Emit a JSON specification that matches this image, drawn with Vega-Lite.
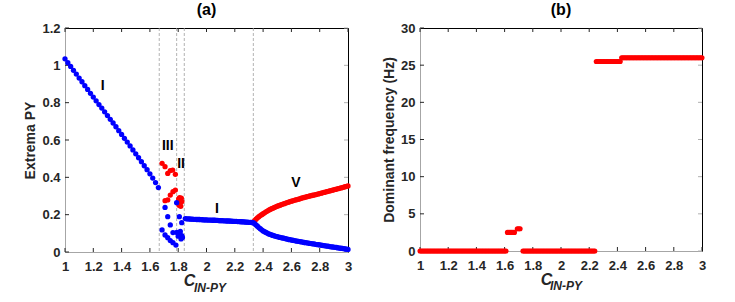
{
"$schema": "https://vega.github.io/schema/vega-lite/v6.json",
"autosize": {"type": "pad"},
"padding": {"left": 23, "top": 2, "right": 20, "bottom": 5},
"background": "white",
"config": {
  "font": "Liberation Sans",
  "view": {"stroke": null},
  "axis": {"grid": false, "ticks": false, "labelFont": "Liberation Sans", "labelFontSize": 13, "labelFontWeight": "bold", "labelColor": "#262626", "titleFont": "Liberation Sans", "titleFontSize": 14, "titleFontWeight": "bold", "titleColor": "#262626", "domainColor": "#a6a6a6", "domainWidth": 1, "labelFlush": false, "labelOverlap": false},
  "axisX": {"labelPadding": 8},
  "axisY": {"labelPadding": 5, "titlePadding": 4},
  "title": {"font": "Liberation Sans", "fontSize": 16, "fontWeight": "bold", "color": "#000000", "offset": 4}
},
"datasets": {
  "xt": [{"v":1},{"v":1.2},{"v":1.4},{"v":1.6},{"v":1.8},{"v":2},{"v":2.2},{"v":2.4},{"v":2.6},{"v":2.8},{"v":3}],
  "yta": [{"v":0},{"v":0.2},{"v":0.4},{"v":0.6},{"v":0.8},{"v":1},{"v":1.2}],
  "ytb": [{"v":0},{"v":5},{"v":10},{"v":15},{"v":20},{"v":25},{"v":30}],
  "aBlue": [
    {"x":1.00,"y":1.035},{"x":1.02,"y":1.014},{"x":1.04,"y":0.994},{"x":1.06,"y":0.973},{"x":1.08,"y":0.953},{"x":1.10,"y":0.932},{"x":1.12,"y":0.912},{"x":1.14,"y":0.891},{"x":1.16,"y":0.871},{"x":1.18,"y":0.850},{"x":1.20,"y":0.830},{"x":1.22,"y":0.810},{"x":1.24,"y":0.790},{"x":1.26,"y":0.771},{"x":1.28,"y":0.751},{"x":1.30,"y":0.731},{"x":1.32,"y":0.711},{"x":1.34,"y":0.691},{"x":1.36,"y":0.671},{"x":1.38,"y":0.650},{"x":1.40,"y":0.630},{"x":1.42,"y":0.609},{"x":1.44,"y":0.589},{"x":1.46,"y":0.568},{"x":1.48,"y":0.547},{"x":1.50,"y":0.526},{"x":1.52,"y":0.505},{"x":1.54,"y":0.484},{"x":1.56,"y":0.462},{"x":1.58,"y":0.441},{"x":1.60,"y":0.419},{"x":1.62,"y":0.396},{"x":1.64,"y":0.372},{"x":1.66,"y":0.345},
    {"x":1.686,"y":0.118},{"x":1.707,"y":0.091},{"x":1.726,"y":0.077},{"x":1.744,"y":0.061},{"x":1.763,"y":0.050},{"x":1.784,"y":0.037},
    {"x":1.707,"y":0.239},{"x":1.726,"y":0.189},{"x":1.744,"y":0.145},{"x":1.763,"y":0.104},
    {"x":1.789,"y":0.264},{"x":1.808,"y":0.189},{"x":1.825,"y":0.157},
    {"x":1.790,"y":0.105},{"x":1.815,"y":0.110},{"x":1.800,"y":0.085},{"x":1.810,"y":0.098},{"x":1.825,"y":0.088},{"x":1.830,"y":0.078},{"x":1.820,"y":0.070},
    {"x":1.85,"y":0.179},{"x":1.86,"y":0.178},{"x":1.87,"y":0.177},{"x":1.88,"y":0.177},{"x":1.89,"y":0.176},{"x":1.90,"y":0.176},{"x":1.91,"y":0.175},{"x":1.92,"y":0.175},{"x":1.93,"y":0.174},{"x":1.94,"y":0.174},{"x":1.95,"y":0.174},{"x":1.96,"y":0.173},{"x":1.97,"y":0.173},{"x":1.98,"y":0.172},{"x":1.99,"y":0.172},{"x":2.00,"y":0.172},{"x":2.01,"y":0.171},{"x":2.02,"y":0.171},{"x":2.03,"y":0.171},{"x":2.04,"y":0.170},{"x":2.05,"y":0.170},{"x":2.06,"y":0.170},{"x":2.07,"y":0.169},{"x":2.08,"y":0.169},{"x":2.09,"y":0.168},{"x":2.10,"y":0.168},{"x":2.11,"y":0.168},{"x":2.12,"y":0.167},{"x":2.13,"y":0.167},{"x":2.14,"y":0.166},{"x":2.15,"y":0.166},{"x":2.16,"y":0.166},{"x":2.17,"y":0.165},{"x":2.18,"y":0.165},{"x":2.19,"y":0.164},{"x":2.20,"y":0.164},{"x":2.21,"y":0.164},{"x":2.22,"y":0.163},{"x":2.23,"y":0.163},{"x":2.24,"y":0.162},{"x":2.25,"y":0.162},{"x":2.26,"y":0.161},{"x":2.27,"y":0.161},{"x":2.28,"y":0.160},{"x":2.29,"y":0.160},{"x":2.30,"y":0.159},{"x":2.31,"y":0.159},{"x":2.32,"y":0.158},{"x":2.33,"y":0.157},
    {"x":2.34,"y":0.152},{"x":2.35,"y":0.145},{"x":2.36,"y":0.138},{"x":2.37,"y":0.131},{"x":2.38,"y":0.125},{"x":2.39,"y":0.119},{"x":2.40,"y":0.113},{"x":2.41,"y":0.109},{"x":2.42,"y":0.105},{"x":2.43,"y":0.101},{"x":2.44,"y":0.097},{"x":2.45,"y":0.094},{"x":2.46,"y":0.091},{"x":2.47,"y":0.089},{"x":2.48,"y":0.086},{"x":2.49,"y":0.084},{"x":2.50,"y":0.082},{"x":2.51,"y":0.080},{"x":2.52,"y":0.078},{"x":2.53,"y":0.076},{"x":2.54,"y":0.075},{"x":2.55,"y":0.073},{"x":2.56,"y":0.071},{"x":2.57,"y":0.069},{"x":2.58,"y":0.067},{"x":2.59,"y":0.066},{"x":2.60,"y":0.064},{"x":2.61,"y":0.063},{"x":2.62,"y":0.061},{"x":2.63,"y":0.060},{"x":2.64,"y":0.058},{"x":2.65,"y":0.057},{"x":2.66,"y":0.056},{"x":2.67,"y":0.054},{"x":2.68,"y":0.053},{"x":2.69,"y":0.051},{"x":2.70,"y":0.050},{"x":2.71,"y":0.049},{"x":2.72,"y":0.048},{"x":2.73,"y":0.046},{"x":2.74,"y":0.045},{"x":2.75,"y":0.044},{"x":2.76,"y":0.043},{"x":2.77,"y":0.041},{"x":2.78,"y":0.040},{"x":2.79,"y":0.039},{"x":2.80,"y":0.038},{"x":2.81,"y":0.037},{"x":2.82,"y":0.035},{"x":2.83,"y":0.034},{"x":2.84,"y":0.033},{"x":2.85,"y":0.032},{"x":2.86,"y":0.031},{"x":2.87,"y":0.029},{"x":2.88,"y":0.028},{"x":2.89,"y":0.027},{"x":2.90,"y":0.026},{"x":2.91,"y":0.025},{"x":2.92,"y":0.024},{"x":2.93,"y":0.022},{"x":2.94,"y":0.021},{"x":2.95,"y":0.020},{"x":2.96,"y":0.019},{"x":2.97,"y":0.018},{"x":2.98,"y":0.016},{"x":2.99,"y":0.015},{"x":3.00,"y":0.014}
  ],
  "aRed": [
    {"x":1.686,"y":0.475},{"x":1.707,"y":0.457},{"x":1.726,"y":0.421},{"x":1.744,"y":0.436},{"x":1.761,"y":0.439},{"x":1.780,"y":0.416},
    {"x":1.707,"y":0.275},{"x":1.726,"y":0.279},{"x":1.744,"y":0.305},{"x":1.763,"y":0.323},{"x":1.780,"y":0.332},
    {"x":1.803,"y":0.285},{"x":1.810,"y":0.291},{"x":1.822,"y":0.288},{"x":1.806,"y":0.268},{"x":1.815,"y":0.265},{"x":1.826,"y":0.270},{"x":1.806,"y":0.250},{"x":1.818,"y":0.245},
    {"x":2.34,"y":0.168},{"x":2.35,"y":0.176},{"x":2.36,"y":0.183},{"x":2.37,"y":0.189},{"x":2.38,"y":0.195},{"x":2.39,"y":0.200},{"x":2.40,"y":0.205},{"x":2.41,"y":0.210},{"x":2.42,"y":0.215},{"x":2.43,"y":0.219},{"x":2.44,"y":0.224},{"x":2.45,"y":0.228},{"x":2.46,"y":0.232},{"x":2.47,"y":0.235},{"x":2.48,"y":0.239},{"x":2.49,"y":0.242},{"x":2.50,"y":0.245},{"x":2.51,"y":0.248},{"x":2.52,"y":0.251},{"x":2.53,"y":0.254},{"x":2.54,"y":0.257},{"x":2.55,"y":0.259},{"x":2.56,"y":0.262},{"x":2.57,"y":0.265},{"x":2.58,"y":0.267},{"x":2.59,"y":0.270},{"x":2.60,"y":0.272},{"x":2.61,"y":0.274},{"x":2.62,"y":0.277},{"x":2.63,"y":0.279},{"x":2.64,"y":0.281},{"x":2.65,"y":0.283},{"x":2.66,"y":0.285},{"x":2.67,"y":0.288},{"x":2.68,"y":0.290},{"x":2.69,"y":0.292},{"x":2.70,"y":0.294},{"x":2.71,"y":0.296},{"x":2.72,"y":0.298},{"x":2.73,"y":0.300},{"x":2.74,"y":0.302},{"x":2.75,"y":0.304},{"x":2.76,"y":0.305},{"x":2.77,"y":0.307},{"x":2.78,"y":0.309},{"x":2.79,"y":0.311},{"x":2.80,"y":0.313},{"x":2.81,"y":0.315},{"x":2.82,"y":0.317},{"x":2.83,"y":0.319},{"x":2.84,"y":0.321},{"x":2.85,"y":0.323},{"x":2.86,"y":0.325},{"x":2.87,"y":0.327},{"x":2.88,"y":0.329},{"x":2.89,"y":0.331},{"x":2.90,"y":0.333},{"x":2.91,"y":0.335},{"x":2.92,"y":0.337},{"x":2.93,"y":0.339},{"x":2.94,"y":0.341},{"x":2.95,"y":0.343},{"x":2.96,"y":0.345},{"x":2.97,"y":0.347},{"x":2.98,"y":0.350},{"x":2.99,"y":0.352},{"x":3.00,"y":0.354}
  ],
  "vlines": [{"x":1.666},{"x":1.789},{"x":1.843},{"x":2.331}],
  "aLabels": [
    {"x":1.266,"y":0.889,"t":"I"},{"x":1.726,"y":0.570,"t":"III"},{"x":1.820,"y":0.471,"t":"II"},{"x":2.074,"y":0.229,"t":"I"},{"x":2.632,"y":0.368,"t":"V"}
  ],
  "aSub": [{"x":2.025,"y":-0.193,"t":"IN-PY"}],
  "bSub": [{"x":2.035,"y":-4.75,"t":"IN-PY"}],
  "b": [
    {"x":1.00,"y":0},{"x":1.01,"y":0},{"x":1.02,"y":0},{"x":1.03,"y":0},{"x":1.04,"y":0},{"x":1.05,"y":0},{"x":1.06,"y":0},{"x":1.07,"y":0},{"x":1.08,"y":0},{"x":1.09,"y":0},{"x":1.10,"y":0},{"x":1.11,"y":0},{"x":1.12,"y":0},{"x":1.13,"y":0},{"x":1.14,"y":0},{"x":1.15,"y":0},{"x":1.16,"y":0},{"x":1.17,"y":0},{"x":1.18,"y":0},{"x":1.19,"y":0},{"x":1.20,"y":0},{"x":1.21,"y":0},{"x":1.22,"y":0},{"x":1.23,"y":0},{"x":1.24,"y":0},{"x":1.25,"y":0},{"x":1.26,"y":0},{"x":1.27,"y":0},{"x":1.28,"y":0},{"x":1.29,"y":0},{"x":1.30,"y":0},{"x":1.31,"y":0},{"x":1.32,"y":0},{"x":1.33,"y":0},{"x":1.34,"y":0},{"x":1.35,"y":0},{"x":1.36,"y":0},{"x":1.37,"y":0},{"x":1.38,"y":0},{"x":1.39,"y":0},{"x":1.40,"y":0},{"x":1.41,"y":0},{"x":1.42,"y":0},{"x":1.43,"y":0},{"x":1.44,"y":0},{"x":1.45,"y":0},{"x":1.46,"y":0},{"x":1.47,"y":0},{"x":1.48,"y":0},{"x":1.49,"y":0},{"x":1.50,"y":0},{"x":1.51,"y":0},{"x":1.52,"y":0},{"x":1.53,"y":0},{"x":1.54,"y":0},{"x":1.55,"y":0},{"x":1.56,"y":0},{"x":1.57,"y":0},{"x":1.58,"y":0},{"x":1.59,"y":0},{"x":1.60,"y":0},{"x":1.61,"y":0},
    {"x":1.62,"y":2.5},{"x":1.63,"y":2.5},{"x":1.64,"y":2.5},{"x":1.65,"y":2.5},{"x":1.66,"y":2.5},{"x":1.67,"y":2.5},
    {"x":1.69,"y":3},{"x":1.70,"y":3},{"x":1.71,"y":3},
    {"x":1.73,"y":0},{"x":1.74,"y":0},{"x":1.75,"y":0},{"x":1.76,"y":0},{"x":1.77,"y":0},{"x":1.78,"y":0},{"x":1.79,"y":0},{"x":1.80,"y":0},{"x":1.81,"y":0},{"x":1.82,"y":0},{"x":1.83,"y":0},{"x":1.84,"y":0},{"x":1.85,"y":0},{"x":1.86,"y":0},{"x":1.87,"y":0},{"x":1.88,"y":0},{"x":1.89,"y":0},{"x":1.90,"y":0},{"x":1.91,"y":0},{"x":1.92,"y":0},{"x":1.93,"y":0},{"x":1.94,"y":0},{"x":1.95,"y":0},{"x":1.96,"y":0},{"x":1.97,"y":0},{"x":1.98,"y":0},{"x":1.99,"y":0},{"x":2.00,"y":0},{"x":2.01,"y":0},{"x":2.02,"y":0},{"x":2.03,"y":0},{"x":2.04,"y":0},{"x":2.05,"y":0},{"x":2.06,"y":0},{"x":2.07,"y":0},{"x":2.08,"y":0},{"x":2.09,"y":0},{"x":2.10,"y":0},{"x":2.11,"y":0},{"x":2.12,"y":0},{"x":2.13,"y":0},{"x":2.14,"y":0},{"x":2.15,"y":0},{"x":2.16,"y":0},{"x":2.17,"y":0},{"x":2.18,"y":0},{"x":2.19,"y":0},{"x":2.20,"y":0},{"x":2.21,"y":0},{"x":2.22,"y":0},{"x":2.23,"y":0},{"x":2.24,"y":0},
    {"x":2.25,"y":25.5},{"x":2.26,"y":25.5},{"x":2.27,"y":25.5},{"x":2.28,"y":25.5},{"x":2.29,"y":25.5},{"x":2.30,"y":25.5},{"x":2.31,"y":25.5},{"x":2.32,"y":25.5},{"x":2.33,"y":25.5},{"x":2.34,"y":25.5},{"x":2.35,"y":25.5},{"x":2.36,"y":25.5},{"x":2.37,"y":25.5},{"x":2.38,"y":25.5},{"x":2.39,"y":25.5},{"x":2.40,"y":25.5},{"x":2.41,"y":25.5},{"x":2.42,"y":25.5},
    {"x":2.43,"y":26},{"x":2.44,"y":26},{"x":2.45,"y":26},{"x":2.46,"y":26},{"x":2.47,"y":26},{"x":2.48,"y":26},{"x":2.49,"y":26},{"x":2.50,"y":26},{"x":2.51,"y":26},{"x":2.52,"y":26},{"x":2.53,"y":26},{"x":2.54,"y":26},{"x":2.55,"y":26},{"x":2.56,"y":26},{"x":2.57,"y":26},{"x":2.58,"y":26},{"x":2.59,"y":26},{"x":2.60,"y":26},{"x":2.61,"y":26},{"x":2.62,"y":26},{"x":2.63,"y":26},{"x":2.64,"y":26},{"x":2.65,"y":26},{"x":2.66,"y":26},{"x":2.67,"y":26},{"x":2.68,"y":26},{"x":2.69,"y":26},{"x":2.70,"y":26},{"x":2.71,"y":26},{"x":2.72,"y":26},{"x":2.73,"y":26},{"x":2.74,"y":26},{"x":2.75,"y":26},{"x":2.76,"y":26},{"x":2.77,"y":26},{"x":2.78,"y":26},{"x":2.79,"y":26},{"x":2.80,"y":26},{"x":2.81,"y":26},{"x":2.82,"y":26},{"x":2.83,"y":26},{"x":2.84,"y":26},{"x":2.85,"y":26},{"x":2.86,"y":26},{"x":2.87,"y":26},{"x":2.88,"y":26},{"x":2.89,"y":26},{"x":2.90,"y":26},{"x":2.91,"y":26},{"x":2.92,"y":26},{"x":2.93,"y":26},{"x":2.94,"y":26},{"x":2.95,"y":26},{"x":2.96,"y":26},{"x":2.97,"y":26},{"x":2.98,"y":26},{"x":2.99,"y":26},{"x":3.00,"y":26}
  ]
},
"spacing": 30,
"hconcat": [
  {
    "width": 283, "height": 224,
    "title": {"text": "(a)"},
    "resolve": {"axis": {"x": "independent", "y": "independent"}},
    "layer": [
      {
        "data": {"name": "vlines"},
        "mark": {"type": "rule", "color": "#a0a0a0", "strokeWidth": 0.8, "strokeDash": [3, 2]},
        "encoding": {"x": {"field": "x", "type": "quantitative", "scale": {"domain": [1, 3], "nice": false}, "axis": null}}
      },
      {
        "data": {"name": "xt"},
        "mark": {"type": "tick", "orient": "vertical", "color": "#262626", "opacity": 1, "size": 4, "thickness": 1, "yOffset": -2},
        "encoding": {
          "x": {"field": "v", "type": "quantitative", "scale": {"domain": [1, 3], "nice": false}, "axis": null},
          "y": {"datum": 0, "type": "quantitative", "scale": {"domain": [0, 1.2], "nice": false}, "axis": null}
        }
      },
      {
        "data": {"name": "xt"},
        "mark": {"type": "tick", "orient": "vertical", "color": "#262626", "opacity": 1, "size": 4, "thickness": 1, "yOffset": 2},
        "encoding": {
          "x": {"field": "v", "type": "quantitative", "scale": {"domain": [1, 3], "nice": false}, "axis": null},
          "y": {"datum": 1.2, "type": "quantitative", "scale": {"domain": [0, 1.2], "nice": false}, "axis": null}
        }
      },
      {
        "data": {"name": "yta"},
        "mark": {"type": "tick", "orient": "horizontal", "color": "#262626", "opacity": 1, "size": 4, "thickness": 1, "xOffset": 2},
        "encoding": {
          "x": {"datum": 1, "type": "quantitative", "scale": {"domain": [1, 3], "nice": false}, "axis": null},
          "y": {"field": "v", "type": "quantitative", "scale": {"domain": [0, 1.2], "nice": false}, "axis": null}
        }
      },
      {
        "data": {"name": "yta"},
        "mark": {"type": "tick", "orient": "horizontal", "color": "#b0b0b0", "opacity": 1, "size": 4, "thickness": 1, "xOffset": -2},
        "encoding": {
          "x": {"datum": 3, "type": "quantitative", "scale": {"domain": [1, 3], "nice": false}, "axis": null},
          "y": {"field": "v", "type": "quantitative", "scale": {"domain": [0, 1.2], "nice": false}, "axis": null}
        }
      },
      {
        "data": {"name": "aRed"},
        "mark": {"type": "circle", "color": "#ff0000", "opacity": 1, "size": 28},
        "encoding": {
          "x": {"field": "x", "type": "quantitative", "scale": {"domain": [1, 3], "nice": false}, "axis": null},
          "y": {"field": "y", "type": "quantitative", "scale": {"domain": [0, 1.2], "nice": false}, "axis": null}
        }
      },
      {
        "data": {"name": "aBlue"},
        "mark": {"type": "circle", "color": "#0000ff", "opacity": 1, "size": 28},
        "encoding": {
          "x": {"field": "x", "type": "quantitative", "scale": {"domain": [1, 3], "nice": false}, "axis": {"orient": "bottom", "values": [1, 1.2, 1.4, 1.6, 1.8, 2, 2.2, 2.4, 2.6, 2.8, 3], "format": "~g", "title": "C", "titleFontSize": 16, "titleFontStyle": "italic", "titleX": 124, "titleY": 33, "titleBaseline": "alphabetic", "titleAnchor": "middle"}},
          "y": {"field": "y", "type": "quantitative", "scale": {"domain": [0, 1.2], "nice": false}, "axis": {"orient": "left", "values": [0, 0.2, 0.4, 0.6, 0.8, 1, 1.2], "format": "~g", "title": "Extrema PY"}}
        }
      },
      {
        "data": {"name": "aLabels"},
        "mark": {"type": "text", "fontSize": 14, "fontWeight": "bold", "color": "#000000", "font": "Liberation Sans", "align": "center", "baseline": "middle"},
        "encoding": {
          "x": {"field": "x", "type": "quantitative", "scale": {"domain": [1, 3], "nice": false}, "axis": {"orient": "top", "labels": false, "title": null, "domainColor": "#000000"}},
          "y": {"field": "y", "type": "quantitative", "scale": {"domain": [0, 1.2], "nice": false}, "axis": {"orient": "right", "labels": false, "title": null, "domainColor": "#000000"}},
          "text": {"field": "t"}
        }
      },
      {
        "data": {"name": "aSub"},
        "mark": {"type": "text", "fontSize": 12, "fontWeight": "bold", "fontStyle": "italic", "color": "#262626", "font": "Liberation Sans", "align": "center", "baseline": "middle"},
        "encoding": {
          "x": {"field": "x", "type": "quantitative", "scale": {"domain": [1, 3], "nice": false}, "axis": null},
          "y": {"field": "y", "type": "quantitative", "scale": {"domain": [0, 1.2], "nice": false}, "axis": null},
          "text": {"field": "t"}
        }
      }
    ]
  },
  {
    "width": 282, "height": 223,
    "title": {"text": "(b)"},
    "resolve": {"axis": {"x": "independent", "y": "independent"}},
    "layer": [
      {
        "data": {"name": "xt"},
        "mark": {"type": "tick", "orient": "vertical", "color": "#262626", "opacity": 1, "size": 4, "thickness": 1, "yOffset": -2},
        "encoding": {
          "x": {"field": "v", "type": "quantitative", "scale": {"domain": [1, 3], "nice": false}, "axis": null},
          "y": {"datum": 0, "type": "quantitative", "scale": {"domain": [0, 30], "nice": false}, "axis": null}
        }
      },
      {
        "data": {"name": "xt"},
        "mark": {"type": "tick", "orient": "vertical", "color": "#262626", "opacity": 1, "size": 4, "thickness": 1, "yOffset": 2},
        "encoding": {
          "x": {"field": "v", "type": "quantitative", "scale": {"domain": [1, 3], "nice": false}, "axis": null},
          "y": {"datum": 30, "type": "quantitative", "scale": {"domain": [0, 30], "nice": false}, "axis": null}
        }
      },
      {
        "data": {"name": "ytb"},
        "mark": {"type": "tick", "orient": "horizontal", "color": "#262626", "opacity": 1, "size": 4, "thickness": 1, "xOffset": 2},
        "encoding": {
          "x": {"datum": 1, "type": "quantitative", "scale": {"domain": [1, 3], "nice": false}, "axis": null},
          "y": {"field": "v", "type": "quantitative", "scale": {"domain": [0, 30], "nice": false}, "axis": null}
        }
      },
      {
        "data": {"name": "ytb"},
        "mark": {"type": "tick", "orient": "horizontal", "color": "#b0b0b0", "opacity": 1, "size": 4, "thickness": 1, "xOffset": -2},
        "encoding": {
          "x": {"datum": 3, "type": "quantitative", "scale": {"domain": [1, 3], "nice": false}, "axis": null},
          "y": {"field": "v", "type": "quantitative", "scale": {"domain": [0, 30], "nice": false}, "axis": null}
        }
      },
      {
        "data": {"name": "b"},
        "mark": {"type": "circle", "color": "#ff0000", "opacity": 1, "size": 26},
        "encoding": {
          "x": {"field": "x", "type": "quantitative", "scale": {"domain": [1, 3], "nice": false}, "axis": {"orient": "bottom", "values": [1, 1.2, 1.4, 1.6, 1.8, 2, 2.2, 2.4, 2.6, 2.8, 3], "format": "~g", "title": "C", "titleFontSize": 16, "titleFontStyle": "italic", "titleX": 126, "titleY": 33, "titleBaseline": "alphabetic", "titleAnchor": "middle"}},
          "y": {"field": "y", "type": "quantitative", "scale": {"domain": [0, 30], "nice": false}, "axis": {"orient": "left", "values": [0, 5, 10, 15, 20, 25, 30], "title": "Dominant frequency (Hz)"}}
        }
      },
      {
        "data": {"name": "bSub"},
        "mark": {"type": "text", "fontSize": 12, "fontWeight": "bold", "fontStyle": "italic", "color": "#262626", "font": "Liberation Sans", "align": "center", "baseline": "middle"},
        "encoding": {
          "x": {"field": "x", "type": "quantitative", "scale": {"domain": [1, 3], "nice": false}, "axis": {"orient": "top", "labels": false, "title": null, "domainColor": "#000000"}},
          "y": {"field": "y", "type": "quantitative", "scale": {"domain": [0, 30], "nice": false}, "axis": {"orient": "right", "labels": false, "title": null, "domainColor": "#000000"}},
          "text": {"field": "t"}
        }
      }
    ]
  }
]
}
